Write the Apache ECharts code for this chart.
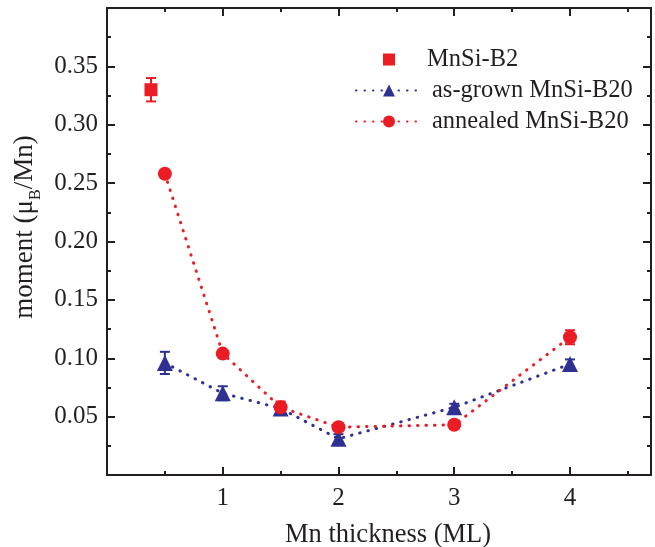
<!DOCTYPE html>
<html>
<head>
<meta charset="utf-8">
<script src="https://cdn.jsdelivr.net/npm/echarts@6/dist/echarts.min.js"></script>
<style>
html, body { margin: 0; padding: 0; background: #fff; }
#main { width: 655px; height: 547px; }
</style>
</head>
<body>
<div id="main"></div>
<script>
// values
var b2X = [0.38];
var b2Y = [0.330];
var b2Err = [0.010];

var thickness = [0.5, 1, 1.5, 2, 3, 4];
var asGrown = [0.096, 0.070, 0.057, 0.031, 0.058, 0.095];
var asGrownErr = [0.0095, 0.006, 0.003, 0.004, 0.003, 0.004];
var annealed = [0.258, 0.104, 0.058, 0.041, 0.043, 0.118];
var annealedErr = [0.003, 0.003, 0.005, 0.003, 0.003, 0.006];

var xTicks = [1, 2, 3, 4];
var yTicks = [0.05, 0.10, 0.15, 0.20, 0.25, 0.30, 0.35];

var RED = '#ec1c24';
var BLUE = '#2e3192';
var INK = '#231f20';
var FONT = 'Liberation Serif';

function pairs(xs, ys) {
    return xs.map(function (x, i) { return [x, ys[i]]; });
}
function errData(xs, ys, es) {
    return xs.map(function (x, i) { return [x, ys[i] - es[i], ys[i] + es[i]]; });
}
function errSeries(name, xs, ys, es, color) {
    return {
        name: name + ' err',
        type: 'custom',
        data: errData(xs, ys, es),
        z: 1,
        renderItem: function (params, api) {
            var lo = api.coord([api.value(0), api.value(1)]);
            var hi = api.coord([api.value(0), api.value(2)]);
            var w = 5;
            var st = { stroke: color, lineWidth: 2 };
            return {
                type: 'group',
                children: [
                    { type: 'line', shape: { x1: lo[0], y1: lo[1], x2: hi[0], y2: hi[1] }, style: st },
                    { type: 'line', shape: { x1: lo[0] - w, y1: lo[1], x2: lo[0] + w, y2: lo[1] }, style: st },
                    { type: 'line', shape: { x1: hi[0] - w, y1: hi[1], x2: hi[0] + w, y2: hi[1] }, style: st }
                ]
            };
        }
    };
}

var axisLine = { show: true, onZero: false, lineStyle: { color: INK, width: 2 } };
var axisTick = { show: true, inside: true, length: 8, lineStyle: { color: INK, width: 2 } };
var minorTick = { show: true, splitNumber: 2, length: 4, lineStyle: { color: INK, width: 2 } };

var chart = echarts.init(document.getElementById('main'));
chart.setOption({
    animation: false,
    backgroundColor: '#fff',
    grid: { left: 107, right: 4, top: 8, bottom: 72 },
    legend: {
        orient: 'vertical',
        left: 355,
        top: 47,
        padding: 0,
        itemWidth: 66,
        itemHeight: 15,
        itemGap: 6,
        data: [
            // square only, centred in the wide icon box
            { name: 'MnSi-B2', icon: 'path://M0,0M66,15M27,1.5h12v12h-12z',
              textStyle: { padding: [0, 0, 0, 0] } },
            'as-grown MnSi-B20',
            'annealed MnSi-B20'
        ],
        textStyle: { fontFamily: FONT, fontSize: 24.5, color: INK, padding: [0, 0, 0, 5] }
    },
    xAxis: [{
        type: 'value',
        min: 0, max: 4.7, interval: 1,
        axisLine: axisLine, axisTick: axisTick, minorTick: minorTick,
        splitLine: { show: false },
        axisLabel: {
            fontFamily: FONT, fontSize: 25, color: INK, margin: 11,
            formatter: function (v) { return xTicks.indexOf(v) >= 0 ? String(v) : ''; }
        }
    }, {
        type: 'value', position: 'top',
        min: 0, max: 4.7, interval: 1,
        axisLine: axisLine, axisTick: axisTick, minorTick: minorTick,
        splitLine: { show: false }, axisLabel: { show: false }
    }],
    yAxis: [{
        type: 'value',
        min: 0, max: 0.4, interval: 0.05,
        axisLine: axisLine, axisTick: axisTick, minorTick: minorTick,
        splitLine: { show: false },
        axisLabel: {
            fontFamily: FONT, fontSize: 25, color: INK, margin: 9,
            formatter: function (v) {
                for (var i = 0; i < yTicks.length; i++) {
                    if (Math.abs(yTicks[i] - v) < 1e-6) return v.toFixed(2);
                }
                return '';
            }
        }
    }, {
        type: 'value', position: 'right',
        min: 0, max: 0.4, interval: 0.05,
        axisLine: axisLine, axisTick: axisTick, minorTick: minorTick,
        splitLine: { show: false }, axisLabel: { show: false }
    }],
    graphic: [{
        type: 'text',
        x: 388, y: 535,
        style: {
            text: 'Mn thickness (ML)', fontFamily: FONT, fontSize: 26.5,
            fill: INK, align: 'center', verticalAlign: 'middle'
        }
    }, {
        type: 'text',
        x: 36, y: 227,
        rotation: Math.PI / 2,
        style: {
            text: '{n|moment (μ}{s|B}{n|/Mn)}',
            align: 'center', verticalAlign: 'middle', fill: INK,
            rich: {
                n: { fontFamily: FONT, fontSize: 27, lineHeight: 27, verticalAlign: 'top', fill: INK },
                s: { fontFamily: FONT, fontSize: 16, lineHeight: 50, verticalAlign: 'middle', fill: INK }
            }
        }
    }],
    series: [
        errSeries('MnSi-B2', b2X, b2Y, b2Err, RED),
        errSeries('as-grown MnSi-B20', thickness, asGrown, asGrownErr, BLUE),
        errSeries('annealed MnSi-B20', thickness, annealed, annealedErr, RED),
        {
            name: 'MnSi-B2',
            type: 'scatter',
            symbol: 'rect',
            symbolSize: 13,
            itemStyle: { color: RED, opacity: 1 },
            data: pairs(b2X, b2Y),
            z: 3
        },
        {
            name: 'as-grown MnSi-B20',
            type: 'line',
            symbol: 'triangle',
            symbolSize: 16,
            itemStyle: { color: BLUE },
            lineStyle: { color: BLUE, width: 3, type: [0.5, 8], cap: 'round' },
            data: pairs(thickness, asGrown),
            z: 3
        },
        {
            name: 'annealed MnSi-B20',
            type: 'line',
            symbol: 'circle',
            symbolSize: 14,
            itemStyle: { color: RED },
            lineStyle: { color: RED, width: 3, type: [0.5, 8], cap: 'round' },
            data: pairs(thickness, annealed),
            z: 4
        }
    ]
});
</script>
</body>
</html>
